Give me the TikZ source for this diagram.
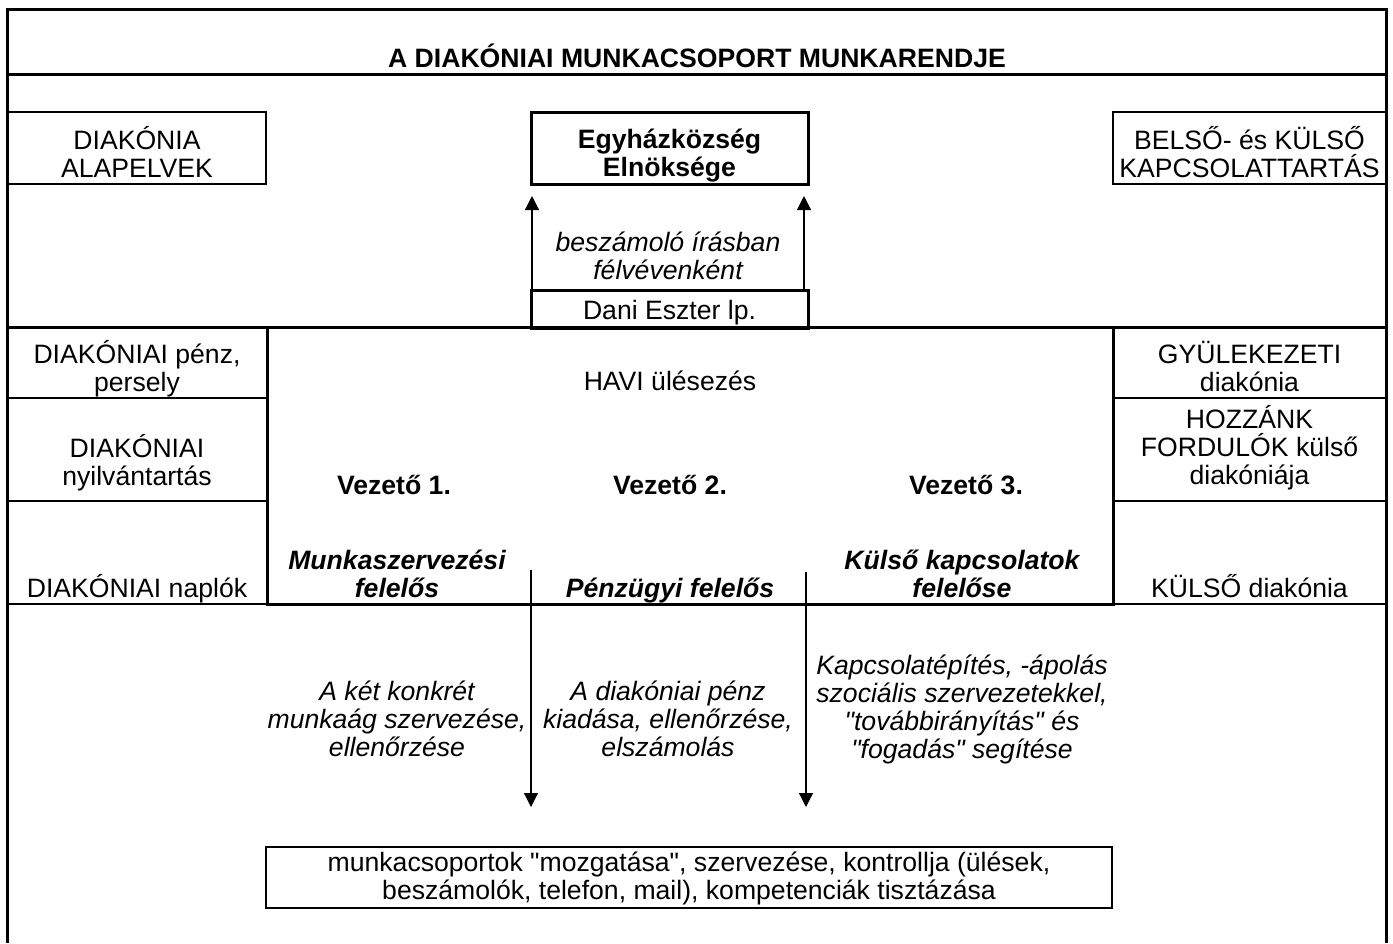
\documentclass[tikz,border=0pt]{standalone}
\usepackage{fontspec}
\setmainfont{Liberation Sans}
\usetikzlibrary{arrows.meta}
\newcommand\dquote{\XeTeXglyph\XeTeXcharglyph"22\relax}
\newcommand\fsz{\fontsize{13.3}{14}\selectfont}
\begin{document}
\begin{tikzpicture}[x=0.5pt,y=-0.5pt,
  txt/.style={font=\fsz, align=center, inner sep=0pt, outer sep=0pt,
    execute at begin node=\strut, execute at end node=\strut},
  boldtxt/.style={txt, font=\fsz\bfseries},
  ittxt/.style={txt, font=\fsz\itshape},
  bittxt/.style={txt, font=\fsz\bfseries\itshape},
  frameline/.style={line width=1.5pt},
  thinbox/.style={draw, line width=1pt, rectangle, inner sep=0pt, outer sep=0pt},
  thickbox/.style={draw, line width=1.5pt, rectangle, inner sep=0pt, outer sep=0pt},
  arr/.style={line width=0.6pt, -{Triangle[width=7pt,length=7pt]}},
]
\useasboundingbox (0,0) rectangle (1393,943);
% outer frame and title band
\draw[frameline] (7,943) -- (7,9) -- (1386,9) -- (1386,943);
\draw[frameline] (7,74) -- (1386,74);
\node[boldtxt] (title) at (697,60.2) {A DIAKÓNIAI MUNKACSOPORT MUNKARENDJE};

% top row boxes
\node[thinbox, minimum width=129.5pt, minimum height=36pt] (alapbox) at (136.5,148) {};
\node[thickbox, minimum width=138.5pt, minimum height=36pt] (egyhazbox) at (669.5,148) {};
\node[thinbox, minimum width=136.5pt, minimum height=36pt] (belsobox) at (1249.5,148) {};
\node[txt] (alap) at (137,155.7) {DIAKÓNIA\\ALAPELVEK};
\node[boldtxt] (egyhaz) at (669.5,156.5) {Egyházközség\\Elnöksége};
\node[txt] (belso) at (1249.5,155.7) {BELSŐ- és KÜLSŐ\\KAPCSOLATTARTÁS};

% Dani box
\node[thickbox, minimum width=138.5pt, minimum height=19pt] (danibox) at (669.5,309) {};
\node[txt] (dani) at (669.5,313.7) {Dani Eszter lp.};
\node[ittxt] (beszam) at (668,259.5) {beszámoló írásban\\félvévenként};
\draw[arr] ([xshift=0.5pt]danibox.north west) -- ([xshift=0.5pt,yshift=-6pt]egyhazbox.south west);
\draw[arr] ([xshift=-2pt]danibox.north east) -- ([xshift=-2pt,yshift=-6pt]egyhazbox.south east);

% middle band line
\draw[frameline] (7,327) -- (1386,327);

% left column
\node[thinbox, minimum width=130pt, minimum height=35.5pt] (penzbox) at (137,362.5) {};
\node[thinbox, minimum width=130pt, minimum height=51.5pt] (nyilvbox) at (137,449.5) {};
\node[thinbox, minimum width=130pt, minimum height=51.5pt] (naplobox) at (137,552.5) {};
\node[txt] (penz) at (137,370.5) {DIAKÓNIAI pénz,\\persely};
\node[txt] (nyilv) at (137,464) {DIAKÓNIAI\\nyilvántartás};
\node[txt] (naplo) at (137,590) {DIAKÓNIAI naplók};

% right column
\node[thinbox, minimum width=136.5pt, minimum height=35.5pt] (gyulbox) at (1249.5,362.5) {};
\node[thinbox, minimum width=136.5pt, minimum height=51.5pt] (hozzbox) at (1249.5,449.5) {};
\node[thinbox, minimum width=136.5pt, minimum height=51.5pt] (kulsobox) at (1249.5,552.5) {};
\node[txt] (gyul) at (1249.5,370.5) {GYÜLEKEZETI\\diakónia};
\node[txt] (hozz) at (1249.5,449) {HOZZÁNK\\FORDULÓK külső\\diakóniája};
\node[txt] (kulso) at (1249.5,590) {KÜLSŐ diakónia};

% central box
\node[thickbox, minimum width=423pt, minimum height=138.5pt] (centbox) at (690,465.5) {};
\node[txt] (havi) at (670,384.5) {HAVI ülésezés};
\node[boldtxt] (v1) at (394,488.5) {Vezető 1.};
\node[boldtxt] (v2) at (670,488.5) {Vezető 2.};
\node[boldtxt] (v3) at (966,488.5) {Vezető 3.};
\node[bittxt] (f1) at (397,577.5) {Munkaszervezési\\felelős};
\node[bittxt] (f2) at (670,592) {Pénzügyi felelős};
\node[bittxt] (f3) at (962,577.5) {Külső kapcsolatok\\felelőse};

% downward arrows
\coordinate (d1a) at (531,570);
\coordinate (d1b) at (531,807);
\coordinate (d2a) at (806,572);
\coordinate (d2b) at (806,807);
\draw[arr] (d1a) -- (d1b);
\draw[arr] (d2a) -- (d2b);

% task descriptions
\node[ittxt] (t1) at (397,723) {A két konkrét\\munkaág szervezése,\\ellenőrzése};
\node[ittxt] (t2) at (668,723) {A diakóniai pénz\\kiadása, ellenőrzése,\\elszámolás};
\node[ittxt] (t3) at (962,711) {Kapcsolatépítés, -ápolás\\szociális szervezetekkel,\\\dquote továbbirányítás\dquote{} és\\\dquote fogadás\dquote{} segítése};

% bottom box
\node[thinbox, minimum width=423pt, minimum height=30.5pt] (botbox) at (689,877.5) {};
\node[txt] (bot) at (689,880) {munkacsoportok \dquote mozgatása\dquote, szervezése, kontrollja (ülések,\\beszámolók, telefon, mail), kompetenciák tisztázása};
\end{tikzpicture}
\end{document}
